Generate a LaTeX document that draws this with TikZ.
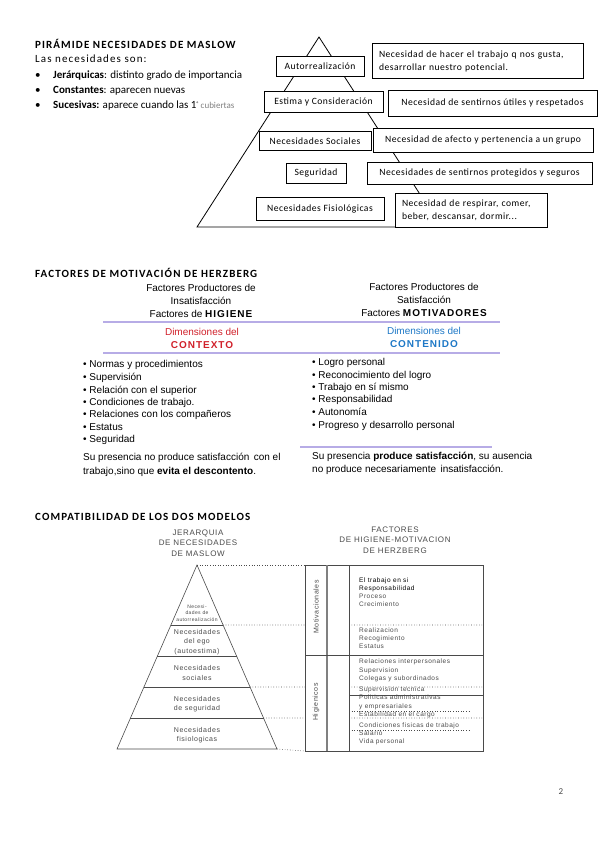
\documentclass[tikz,border=0pt]{standalone}
\usepackage{fontspec}
\setmainfont{Carlito}
\newfontfamily\titlefont[LetterSpace=10]{Carlito}
\newfontfamily\arialfont{Liberation Sans}
\newfontfamily\arialwide[LetterSpace=10]{Liberation Sans}
\newfontfamily\boxfont[LetterSpace=5]{Carlito}
\newfontfamily\scanfont[LetterSpace=8]{Liberation Sans}
\usetikzlibrary{positioning, calc}
\definecolor{lavender}{HTML}{B7ACE6}
\definecolor{contextred}{HTML}{D0202A}
\definecolor{contentblue}{HTML}{1E78C6}
\definecolor{scangray}{HTML}{4A4A4A}

\begin{document}
\begin{tikzpicture}[x=1pt,y=-1pt,
  sectiontitle/.style={anchor=base west, inner sep=0pt, font=\titlefont\fontsize{11}{13}\selectfont\bfseries},
  bodyline/.style={anchor=base west, inner sep=0pt, font=\fontsize{11}{13}\selectfont},
  pyrbox/.style={rectangle, draw, fill=white, line width=0.7pt, inner sep=0pt, font=\boxfont\fontsize{9.6}{13}\selectfont},
  descbox/.style={pyrbox, align=left},
  hzhead/.style={inner sep=0pt, align=center, font=\arialfont\fontsize{10}{13}\selectfont},
  hzitem/.style={anchor=base west, inner sep=0pt, font=\arialfont\fontsize{10}{12}\selectfont},
  divline/.style={draw=lavender, line width=1.1pt},
  scantext/.style={inner sep=0pt, align=center, text=scangray, font=\scanfont\fontsize{7}{9.5}\selectfont},
  scanhead/.style={scantext, font=\scanfont\fontsize{8}{10.5}\selectfont},
  scanline/.style={draw=scangray, line width=0.6pt},
  levelline/.style={draw=scangray, dotted, line width=0.6pt}]
\useasboundingbox (0,0) rectangle (599,848);

% Piramide de Maslow
\node[sectiontitle] (maslowtitle) at (35,49) {PIRÁMIDE NECESIDADES DE MASLOW};
\node[bodyline, font=\titlefont\fontsize{11}{13}\selectfont] (intro) at (35,63) {Las necesidades son:};
\node[bodyline] (hier) at (35,79) {\makebox[18pt][l]{•}\textbf{Jerárquicas}: distinto grado de importancia};
\node[bodyline] (const) at (35,94) {\makebox[18pt][l]{•}\textbf{Constantes}: aparecen nuevas};
\node[bodyline] (succ) at (35,109) {\makebox[18pt][l]{•}\textbf{Sucesivas:} aparece cuando las 1\raisebox{3pt}{\tiny°} {\color{gray}\fontsize{9}{10}\selectfont cubiertas}};

\coordinate (apex) at (319,37);
\coordinate (baseleft) at (197,227);
\coordinate (baseright) at (441,227);
\draw[line width=0.8pt] (apex) -- (baseleft) -- (baseright) -- cycle;

\node[pyrbox, minimum width=88pt, minimum height=20pt] (selfreal) at (320,66) {Autorrealización};
\node[descbox, minimum width=211pt, minimum height=35pt, text width=197pt] (selfrealdesc) at (477.5,61) {Necesidad de hacer el trabajo q nos gusta,\\ desarrollar nuestro potencial.};
\node[pyrbox, minimum width=119pt, minimum height=21pt] (esteem) at (323.5,102) {Estima y Consideración};
\node[pyrbox, minimum width=209pt, minimum height=26pt] (esteemdesc) at (492.5,103) {Necesidad de sentirnos útiles y respetados};
\node[pyrbox, minimum width=112pt, minimum height=19pt] (social) at (315,141) {Necesidades Sociales};
\node[pyrbox, minimum width=220pt, minimum height=24pt] (socialdesc) at (483,140) {Necesidad de afecto y pertenencia a un grupo};
\node[pyrbox, minimum width=60pt, minimum height=20pt] (safety) at (316,173) {Seguridad};
\node[pyrbox, minimum width=225pt, minimum height=22pt] (safetydesc) at (479.5,173) {Necesidades de sentirnos protegidos y seguros};
\node[pyrbox, minimum width=128pt, minimum height=23pt] (physio) at (320,209) {Necesidades Fisiológicas};
\node[descbox, minimum width=152pt, minimum height=34pt, text width=138pt] (physiodesc) at (471,210) {Necesidad de respirar, comer,\\ beber, descansar, dormir...};

% Factores de Herzberg
\node[sectiontitle] (herztitle) at (35,277) {FACTORES DE MOTIVACIÓN DE HERZBERG};
\node[hzhead] (hygienehead) at (201,301) {Factores Productores de\\ Insatisfacción\\ Factores de {\arialwide\bfseries HIGIENE}};
\node[hzhead] (motivhead) at (424,300) {Factores Productores de\\ Satisfacción\\ Factores {\arialwide\bfseries MOTIVADORES}};
\coordinate (topleft) at (103,322);
\coordinate (topright) at (500,322);
\draw[divline] (topleft) -- (topright);
\node[hzhead, text=contextred] (context) at (202,338) {Dimensiones del\\ {\arialwide\bfseries CONTEXTO}};
\node[hzhead, text=contentblue] (content) at (424,337) {Dimensiones del\\ {\arialwide\bfseries CONTENIDO}};
\coordinate (midleft) at (103,353);
\coordinate (midright) at (500,353);
\draw[divline] (midleft) -- (midright);

\node[hzitem] (hyg1) at (83,367.5) {• Normas y procedimientos};
\node[hzitem] (hyg2) at (83,380.5) {• Supervisión};
\node[hzitem] (hyg3) at (83,393.5) {• Relación con el superior};
\node[hzitem] (hyg4) at (83,405.5) {• Condiciones de trabajo.};
\node[hzitem] (hyg5) at (83,417.5) {• Relaciones con los compañeros};
\node[hzitem] (hyg6) at (83,430.5) {• Estatus};
\node[hzitem] (hyg7) at (83,442.5) {• Seguridad};
\node[hzitem] (hygnote) at (83,460.5) {Su presencia no produce satisfacción\, con el};
\node[hzitem] (hygnote2) at (83,474.5) {trabajo,sino que \textbf{evita el descontento}.};

\node[hzitem] (mot1) at (312,365.5) {• Logro personal};
\node[hzitem] (mot2) at (312,378.5) {• Reconocimiento del logro};
\node[hzitem] (mot3) at (312,390.5) {• Trabajo en sí mismo};
\node[hzitem] (mot4) at (312,402.5) {• Responsabilidad};
\node[hzitem] (mot5) at (312,415.5) {• Autonomía};
\node[hzitem] (mot6) at (312,428.5) {• Progreso y desarrollo personal};
\coordinate (lowleft) at (300,447);
\coordinate (lowright) at (492,447);
\draw[divline] (lowleft) -- (lowright);
\node[hzitem] (motnote) at (312,459.5) {Su presencia \textbf{produce satisfacción}, su ausencia};
\node[hzitem] (motnote2) at (312,472.5) {no produce necesariamente\, insatisfacción.};

% Compatibilidad de los dos modelos
\node[sectiontitle] (comptitle) at (35,520) {COMPATIBILIDAD DE LOS DOS MODELOS};
\node[scanhead] (maslowhead) at (198,543) {JERARQUIA\\ DE NECESIDADES\\ DE MASLOW};
\node[scanhead] (herzhead) at (395,540) {FACTORES\\ DE HIGIENE-MOTIVACION\\ DE HERZBERG};

\coordinate (top) at (197,565);
\coordinate (bl) at (117,749);
\coordinate (br) at (277,749);
\draw[scanline] (top) -- (bl) -- (br) -- cycle;
\foreach \lvl in {625,656,687,718}
  \draw[scanline] ($(top)!{(\lvl-565)/184}!(bl)$) -- ($(top)!{(\lvl-565)/184}!(br)$);

\node[scantext, font=\scanfont\fontsize{5}{6.5}\selectfont] (selfact) at (197,613) {Necesi-\\ dades de\\ autorrealización};
\node[scantext] (ego) at (197,642) {Necesidades\\ del ego\\ (autoestima)};
\node[scantext] (soc) at (197,673) {Necesidades\\ sociales};
\node[scantext] (seg) at (197,704) {Necesidades\\ de seguridad};
\node[scantext] (fis) at (197,735) {Necesidades\\ fisiologicas};

% tabla de Herzberg
\coordinate (tl) at (305,565);
\coordinate (tbl) at (305,751);
\coordinate (tbr) at (483,751);
\draw[scanline] (tl) rectangle (tbr);
\draw[draw=gray, line width=1.2pt] (327,565) -- (327,751);
\draw[scanline] (349,565) -- (349,751);
\draw[scanline] (305,655) -- (483,655);

\draw[levelline] (top) -- (tl);
\draw[levelline] ($(top)!{60/184}!(br)$) -- (305,625) (349,625) -- (483,625);
\draw[levelline] ($(top)!{122/184}!(br)$) -- (305,687) (349,687) -- (483,687);
\draw[levelline] ($(top)!{153/184}!(br)$) -- (305,718) (349,718) -- (483,718);
\draw[levelline] (br) -- (tbl);
\draw[scanline] (349,695) -- (483,695);
\draw[levelline] (349,711) -- (470,711);
\draw[levelline] (349,730) -- (470,730);

\node[scantext, rotate=90] (motivlabel) at (316,607) {Motivacionales};
\node[scantext, rotate=90] (hyglabel) at (316,702) {Higienicos};

\node[scantext, align=left, anchor=north west, font=\scanfont\fontsize{6.5}{8}\selectfont] (motlist) at (359,578) {\textcolor{black}{El trabajo en si}\\ \textcolor{black}{Responsabilidad}\\ Proceso\\ Crecimiento};
\node[scantext, align=left, anchor=north west, font=\scanfont\fontsize{6.5}{8}\selectfont] (egolist) at (359,628) {Realizacion\\ Recogimiento\\ Estatus};
\node[scantext, align=left, anchor=north west, font=\scanfont\fontsize{6.5}{8.3}\selectfont] (soclist) at (359,659) {Relaciones interpersonales\\ Supervision\\ Colegas y subordinados};
\node[scantext, align=left, anchor=north west, font=\scanfont\fontsize{6.5}{8.3}\selectfont] (seglist) at (359,686.5) {Supervision tecnica\\ Politicas administrativas\\ y empresariales\\ Estabilidad en el cargo};
\node[scantext, align=left, anchor=north west, font=\scanfont\fontsize{6.5}{7.8}\selectfont] (fislist) at (359,723) {Condiciones fisicas de trabajo\\ Salario\\ Vida personal};

% numero de pagina
\node[inner sep=0pt, text=scangray, font=\fontsize{9}{10}\selectfont] (pagenum) at (561,792) {2};
\end{tikzpicture}
\end{document}
